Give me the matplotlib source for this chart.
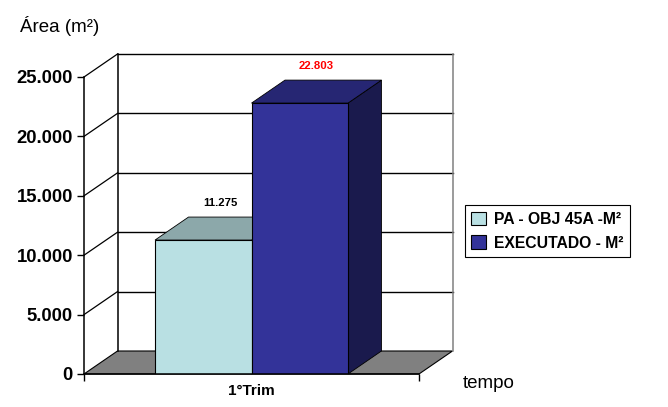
import matplotlib
matplotlib.use("Agg")
import matplotlib.pyplot as plt
from matplotlib.patches import Polygon, Patch

categories = ["1°Trim"]
series_names = ["PA - OBJ 45A -M²", "EXECUTADO - M²"]
series_values = [11275, 22803]
value_labels = ["11.275", "22.803"]
y_ticks = [0, 5000, 10000, 15000, 20000, 25000]
y_tick_labels = ["0", "5.000", "10.000", "15.000", "20.000", "25.000"]
front_colors = ["#B9E0E3", "#333399"]
top_colors = ["#8CA8AA", "#262673"]
side_colors = ["#8CA8AA", "#1A1A4D"]
label_colors = ["black", "#FF0000"]

W, H = 668, 407
plt.rcParams["font.family"] = ["Liberation Sans", "DejaVu Sans"]
fig = plt.figure(figsize=(W / 100, H / 100), dpi=100)
L, R, T, B = 84, 419, 77, 374
ax = fig.add_axes([L / W, 1 - B / H, (R - L) / W, (B - T) / H])
ax.set_xlim(0, 1)
ax.set_ylim(0, 25000)
ymax = 25000
dx = 33.5 / (R - L)
dy = 23 / (B - T) * ymax
bar_w = 0.288
centre = 0.5

# floor and walls
ax.add_patch(Polygon([(0, 0), (1, 0), (1 + dx, dy), (dx, dy)], closed=True, fc="#808080",
                     ec="black", lw=0.8, clip_on=False, zorder=1))
for t in y_ticks[1:]:
    ax.plot([dx, 1 + dx], [t + dy, t + dy], color="black", lw=1.0, clip_on=False, zorder=1.5)
    ax.plot([0, dx], [t, t + dy], color="black", lw=0.9, clip_on=False, zorder=1.5)
ax.plot([dx, dx], [dy, ymax + dy], color="black", lw=1.1, clip_on=False, zorder=1.5)
ax.plot([1 + dx, 1 + dx], [dy, ymax + dy], color="#808080", lw=1.1, clip_on=False, zorder=1.5)

# bars with oblique top and side
n = len(series_values)
for i, v in enumerate(series_values):
    x0 = centre + (i - n / 2) * bar_w
    x1 = x0 + bar_w
    ax.add_patch(Polygon([(x1, 0), (x1 + dx, dy), (x1 + dx, v + dy), (x1, v)], closed=True,
                         fc=side_colors[i], ec="black", lw=0.6, clip_on=False, zorder=2 + i))
    ax.add_patch(Polygon([(x0, v), (x1, v), (x1 + dx, v + dy), (x0 + dx, v + dy)], closed=True,
                         fc=top_colors[i], ec="black", lw=0.6, clip_on=False, zorder=2 + i))
    ax.bar(x0, v, width=bar_w, align="edge", color=front_colors[i], edgecolor="black",
           linewidth=0.8, zorder=2.5 + i)
    ax.text(x0 + bar_w / 2 + dx / 2, v + dy + 800, value_labels[i], ha="center", va="bottom",
            fontsize=8.2, fontweight="bold", color=label_colors[i], zorder=6)

for s in ("top", "right"):
    ax.spines[s].set_visible(False)
for s in ("left", "bottom"):
    ax.spines[s].set_linewidth(1.1)
    ax.spines[s].set_zorder(5)
ax.set_facecolor("none")
ax.set_yticks(y_ticks)
ax.set_yticklabels(y_tick_labels, fontsize=13.3, fontweight="bold")
ax.tick_params(axis="y", length=5, width=1, pad=3)
ax.set_xticks([0, 1])
ax.set_xticklabels(["", ""])
ax.tick_params(axis="x", length=5, width=1)
ax.text(centre, -0.035, categories[0], transform=ax.transAxes, ha="center", va="top",
        fontsize=11, fontweight="bold")

fig.text(20 / W, 1 - 26 / H, "Área (m²)", fontsize=13.5, ha="left", va="center")
fig.text(463 / W, 1 - 384 / H, "tempo", fontsize=13.5, ha="left", va="center")

handles = [Patch(fc=c, ec="black", lw=0.8) for c in front_colors]
leg = fig.legend(handles, series_names, loc="upper left",
                 bbox_to_anchor=(464.5 / W, 1 - 205 / H), bbox_transform=fig.transFigure,
                 prop={"family": "Liberation Sans", "weight": "bold", "size": 11.3},
                 frameon=True, fancybox=False, edgecolor="black", framealpha=1,
                 borderaxespad=0, borderpad=0.42, handlelength=0.95, handleheight=0.95,
                 handletextpad=0.5, labelspacing=0.55)
leg.get_frame().set_linewidth(0.8)

fig.savefig("out.png", dpi=100)
